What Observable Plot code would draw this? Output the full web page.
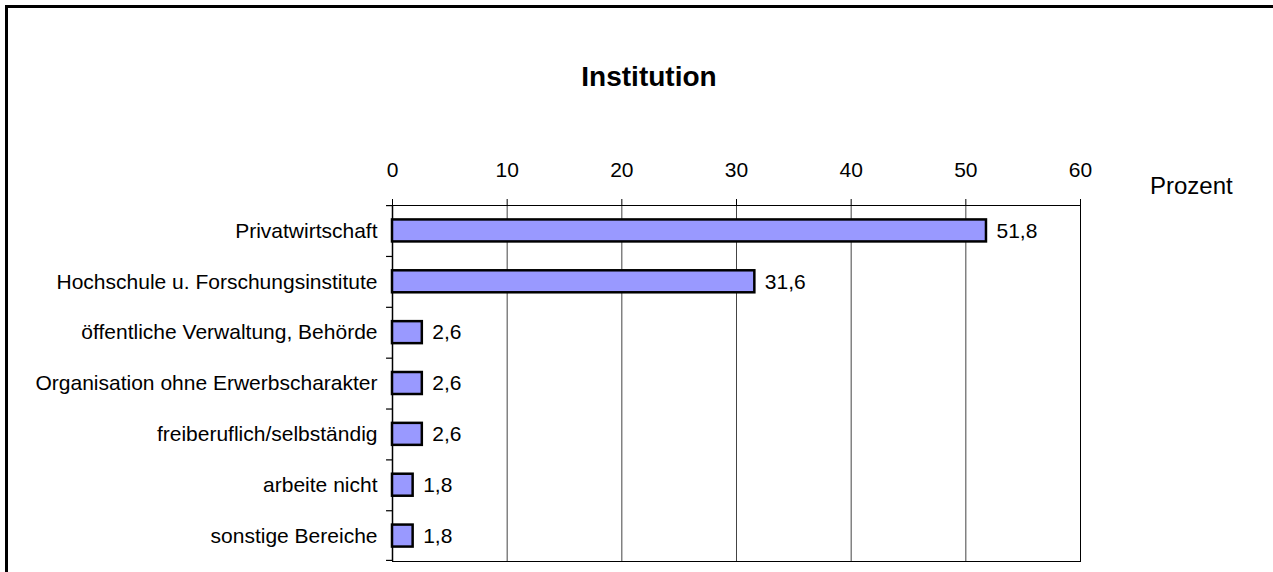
<!DOCTYPE html>
<html>
<head>
<meta charset="utf-8">
<script src="https://cdn.jsdelivr.net/npm/d3@7"></script>
<script src="https://cdn.jsdelivr.net/npm/@observablehq/plot@0.6"></script>
<style>
  html, body { margin: 0; padding: 0; background: #fff; }
  body { font-family: "Liberation Sans", Arial, sans-serif; }
  #wrap { position: relative; width: 1273px; height: 572px; overflow: hidden; }
  #border { position: absolute; left: 5px; top: 5px; width: 1300px; height: 600px;
            border-left: 3px solid #000; border-top: 3px solid #000; box-sizing: border-box; }
  #title { position: absolute; left: 0; width: 1298px; top: 63px; text-align: center;
           font-size: 28px; line-height: 28px; font-weight: bold; color: #000; }
  #unit { position: absolute; left: 1150px; top: 174px; font-size: 24px; line-height: 24px; color: #000; }
  #chart { position: absolute; left: 0; top: 0; }
</style>
</head>
<body>
<div id="wrap">
  <div id="border"></div>
  <div id="chart"></div>
  <div id="title">Institution</div>
  <div id="unit">Prozent</div>
</div>
<script>
const categories = [
  "Privatwirtschaft",
  "Hochschule u. Forschungsinstitute",
  "öffentliche Verwaltung, Behörde",
  "Organisation ohne Erwerbscharakter",
  "freiberuflich/selbständig",
  "arbeite nicht",
  "sonstige Bereiche"
];
const values = [51.8, 31.6, 2.6, 2.6, 2.6, 1.8, 1.8];
const xTicks = [0, 10, 20, 30, 40, 50, 60];

const data = categories.map((c, i) => ({category: c, value: values[i]}));
const fmt = v => v.toFixed(1).replace(".", ",");

const W = 1273, H = 572;
const mL = 392, mR = 193, mT = 205, mB = 11;
const step = (H - mT - mB) / categories.length;
const barH = 22;
const inset = (step - barH) / 2;

const chart = Plot.plot({
  width: W,
  height: H,
  marginLeft: mL,
  marginRight: mR,
  marginTop: mT,
  marginBottom: mB,
  style: {fontFamily: '"Liberation Sans", Arial, sans-serif', color: "#000", background: "transparent", overflow: "visible"},
  x: {domain: [0, 60], ticks: xTicks, label: null},
  y: {domain: categories, padding: 0, round: false, label: null},
  marks: [
    Plot.ruleX(xTicks, {x: d => d, stroke: "#444", strokeWidth: 1}),
    Plot.frame({stroke: "#000", strokeWidth: 1}),
    // category boundary ticks on the left axis
    Plot.barX(categories, {y: d => d, x1: -0.52, x2: 0, fill: "#000", insetBottom: step - 1.2}),
    Plot.barX(categories.slice(-1), {y: d => d, x1: -0.52, x2: 0, fill: "#000", insetTop: step - 1.2}),
    Plot.ruleX([0], {stroke: "#000", strokeWidth: 1.5}),
    Plot.barX(data, {
      x: "value", y: "category",
      fill: "#9999FF", stroke: "#000", strokeWidth: 2.5,
      insetTop: inset, insetBottom: inset
    }),
    Plot.text(data, {
      x: "value", y: "category", text: d => fmt(d.value),
      textAnchor: "start", dx: 10, fontSize: 21, fill: "#000"
    }),
    Plot.axisX({anchor: "top", ticks: xTicks, tickSize: 7, tickPadding: 22, fontSize: 21, label: null, stroke: "#000"}),
    Plot.axisY({anchor: "left", tickSize: 0, tickPadding: 15, fontSize: 21, label: null, textAnchor: "end"})
  ]
});
document.getElementById("chart").appendChild(chart);
</script>
</body>
</html>
